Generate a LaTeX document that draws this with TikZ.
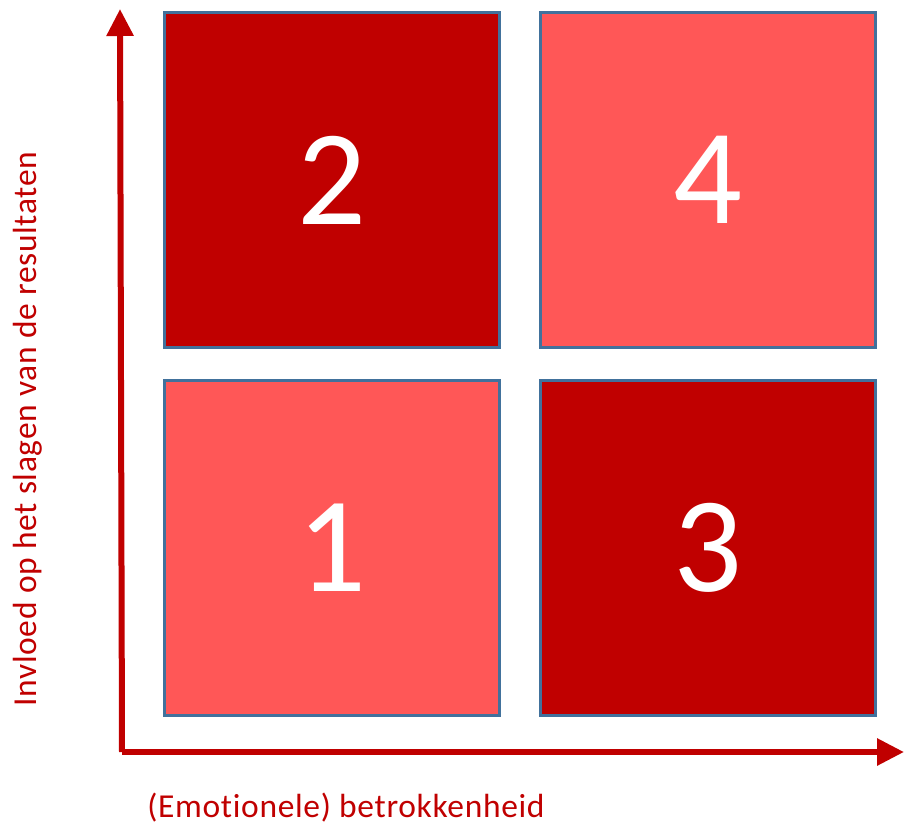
\documentclass[tikz,border=0pt]{standalone}
\usepackage{fontspec}
\setmainfont[RawFeature=-liga]{Carlito}
\newfontfamily\axisfont[RawFeature=-liga,LetterSpace=2]{Carlito}
\usetikzlibrary{positioning,calc}
\usetikzlibrary{arrows.meta}
\definecolor{DeepRed}{RGB}{192,0,0}
\definecolor{LightRed}{RGB}{255,87,87}
\definecolor{EdgeBlue}{RGB}{65,113,156}
\tikzset{
  quad/.style={draw=EdgeBlue,line width=3pt,minimum width=335pt,minimum height=335pt,
    inner sep=0pt,text=white,font=\fontsize{136}{140}\selectfont},
  axis/.style={draw=DeepRed,line width=6pt,-{Triangle[width=26pt,length=27pt]}},
  axlabel/.style={text=DeepRed,font=\axisfont\fontsize{33.5}{38}\selectfont,inner sep=0pt},
}

\begin{document}
\begin{tikzpicture}[x=1pt,y=-1pt]
\useasboundingbox (0,0) rectangle (904,828);
\coordinate (o) at (122,752);
\coordinate (ytip) at (120,9);
\coordinate (xtip) at (904,752);
\node[quad,fill=LightRed] (q1) at (332,547.5) {1};
\node[quad,fill=DeepRed] (q2) at (332,180) {2};
\node[quad,fill=DeepRed] (q3) at (708,547.5) {3};
\node[quad,fill=LightRed] (q4) at (708,180) {4};
\draw[axis] (o) -- (ytip);
\draw[axis] (o) -- (xtip);
\node[axlabel] (xlab) at (346,808) {(Emotionele) betrokkenheid};
\node[axlabel,rotate=90] (ylab) at (28,429) {Invloed op het slagen van de resultaten};
\end{tikzpicture}
\end{document}
